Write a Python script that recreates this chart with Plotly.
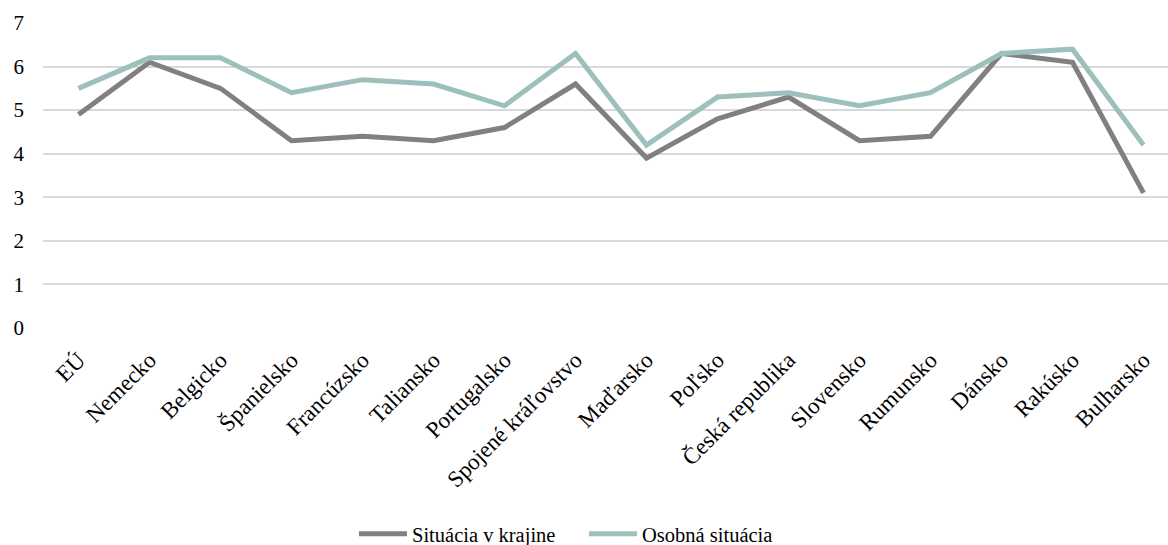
import plotly.graph_objects as go

countries = ["EÚ", "Nemecko", "Belgicko", "Španielsko", "Francúzsko", "Taliansko",
             "Portugalsko", "Spojené kráľovstvo", "Maďarsko", "Poľsko",
             "Česká republika", "Slovensko", "Rumunsko", "Dánsko", "Rakúsko", "Bulharsko"]
situacia_krajina = [4.9, 6.1, 5.5, 4.3, 4.4, 4.3, 4.6, 5.6, 3.9, 4.8, 5.3, 4.3, 4.4, 6.3, 6.1, 3.1]
osobna_situacia = [5.5, 6.2, 6.2, 5.4, 5.7, 5.6, 5.1, 6.3, 4.2, 5.3, 5.4, 5.1, 5.4, 6.3, 6.4, 4.2]
y_ticks = [0, 1, 2, 3, 4, 5, 6, 7]

FONT = "Liberation Serif"

fig = go.Figure()
fig.add_trace(go.Scatter(x=list(range(len(countries))), y=situacia_krajina, mode="lines",
                         name="Situácia v krajine",
                         line=dict(color="#808080", width=5)))
fig.add_trace(go.Scatter(x=list(range(len(countries))), y=osobna_situacia, mode="lines",
                         name="Osobná situácia",
                         line=dict(color="#9dc0bd", width=5)))

fig.update_layout(
    width=1168, height=545,
    margin=dict(l=43, r=0, t=23, b=217, autoexpand=False),
    paper_bgcolor="white", plot_bgcolor="white",
    font=dict(family=FONT, size=20, color="#000000"),
    showlegend=True,
    legend=dict(orientation="h", x=(354 - 43) / 1125, xanchor="left", y=-0.675, yanchor="middle",
                font=dict(family=FONT, size=20.5), itemwidth=48, tracegroupgap=0,
                entrywidth=167, entrywidthmode="pixels"),
    xaxis=dict(
        tickmode="array", tickvals=list(range(len(countries))), ticktext=countries,
        tickangle=-45, range=[-0.5, 15.345], showgrid=False, zeroline=False,
        showline=False, ticks="", ticklabelstandoff=13,
        tickfont=dict(family=FONT, size=23),
    ),
    yaxis=dict(
        range=[0, 7], tickvals=y_ticks, showgrid=True, gridcolor="#d9d9d9", gridwidth=1.5,
        zeroline=False, showline=False, ticks="", ticklabelstandoff=18,
        tickfont=dict(family=FONT, size=21),
    ),
)

fig.write_html("out.html")
